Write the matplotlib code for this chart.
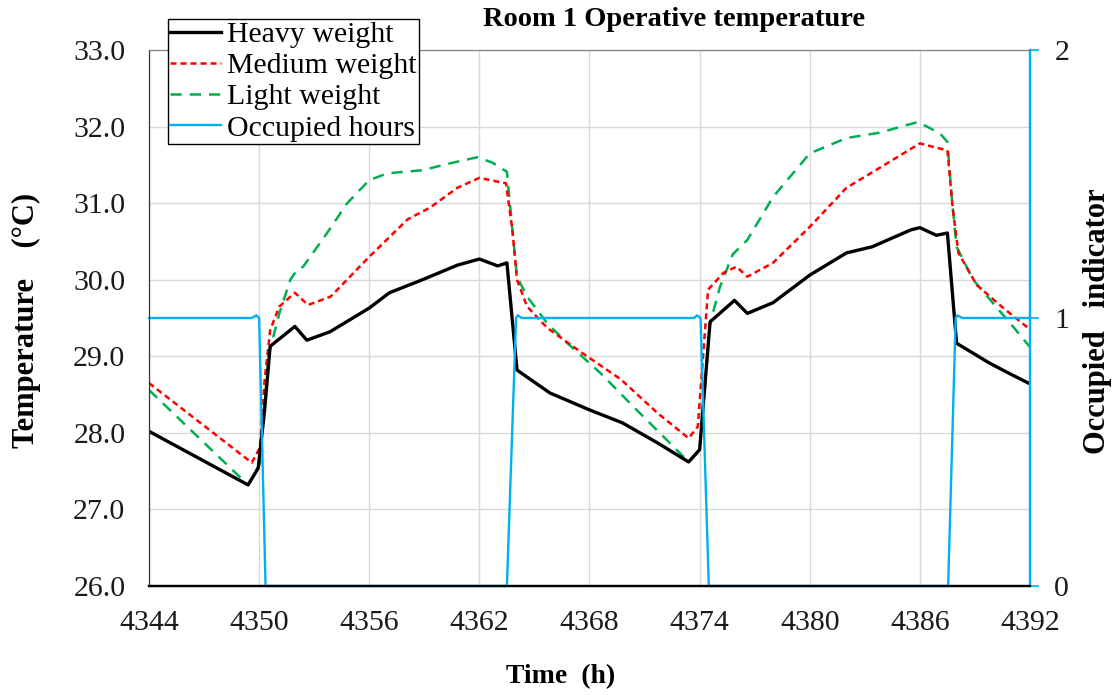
import matplotlib
matplotlib.use("Agg")
import matplotlib.pyplot as plt

plt.rcParams['font.family'] = ['Liberation Serif', 'DejaVu Serif']

# ---- data ----
heavy_h = [4344, 4349.4, 4349.95, 4350.3, 4350.6, 4351.95, 4352.6, 4353.86, 4356.0, 4357.1,
           4358.9, 4360.8, 4362.0, 4363.0, 4363.5, 4364.05, 4365.85, 4368.0, 4369.8, 4371.7,
           4373.4, 4374.0, 4374.57, 4375.9, 4376.6, 4378.0, 4380.0, 4382.0, 4383.4, 4385.5,
           4386.0, 4386.9, 4387.5, 4388.0, 4389.8, 4391.0, 4392]
heavy_t = [28.02, 27.32, 27.54, 28.3, 29.13, 29.39, 29.21, 29.32, 29.63, 29.83,
           30.0, 30.19, 30.27, 30.18, 30.22, 28.82, 28.52, 28.30, 28.13, 27.87,
           27.62, 27.78, 29.45, 29.73, 29.56, 29.70, 30.06, 30.35, 30.43, 30.65,
           30.68, 30.58, 30.61, 29.17, 28.91, 28.76, 28.64]

medium_h = [4344, 4349.6, 4350.05, 4350.3, 4350.6, 4351.1, 4351.95, 4352.66, 4353.9, 4356.0,
            4358.1, 4359.3, 4360.8, 4362.0, 4363.0, 4363.45, 4363.8, 4364.05, 4364.6, 4365.7,
            4367.5, 4369.7, 4371.7, 4373.4, 4373.9, 4374.46, 4375.3, 4376.0, 4376.6, 4378.0,
            4380.0, 4382.0, 4383.8, 4386.0, 4387.3, 4387.5, 4387.8, 4388.1, 4389.1, 4390.5,
            4392]
medium_t = [28.65, 27.61, 27.81, 28.69, 29.34, 29.65, 29.83, 29.67, 29.78, 30.30,
            30.79, 30.94, 31.20, 31.33, 31.28, 31.26, 30.65, 30.0, 29.65, 29.37,
            29.06, 28.70, 28.26, 27.93, 28.08, 29.87, 30.09, 30.17, 30.04, 30.22,
            30.69, 31.20, 31.46, 31.78, 31.70, 31.69, 30.91, 30.35, 29.93, 29.64,
            29.35]

light_h = [4344, 4349.4, 4350.05, 4350.5, 4351.1, 4351.7, 4352.07, 4352.4, 4353.7, 4354.8,
           4356.0, 4357.0, 4358.9, 4360.4, 4361.9, 4362.7, 4363.5, 4363.8, 4364.05, 4364.6,
           4365.7, 4366.8, 4368.6, 4370.4, 4372.2, 4373.4, 4374.0, 4374.57, 4375.1, 4375.8,
           4376.6, 4378.0, 4380.0, 4382.0, 4383.8, 4385.9, 4387.1, 4387.5, 4387.75, 4388.0,
           4388.9, 4390.0, 4391.1, 4392]
light_t = [28.56, 27.32, 27.6, 29.0, 29.56, 30.0, 30.13, 30.17, 30.61, 31.0,
           31.30, 31.39, 31.43, 31.52, 31.60, 31.53, 31.41, 30.65, 30.04, 29.78,
           29.43, 29.17, 28.78, 28.34, 27.91, 27.62, 27.78, 29.43, 29.9, 30.33,
           30.52, 31.08, 31.65, 31.85, 31.92, 32.06, 31.91, 31.80, 31.04, 30.43,
           30.0, 29.69, 29.38, 29.12]

occ_h = [4344, 4349.6, 4349.85, 4350.0, 4350.35, 4363.5, 4364.0, 4364.1, 4364.3,
         4373.7, 4373.86, 4374.05, 4374.5, 4387.54, 4387.95, 4388.05, 4388.3, 4392]
occ_v = [1, 1, 1.01, 1.0, 0, 0, 1.0, 1.01, 1.0,
         1.0, 1.01, 1.0, 0, 0, 1.0, 1.01, 1.0, 1]

x_ticks = [4344, 4350, 4356, 4362, 4368, 4374, 4380, 4386, 4392]
y_ticks = [26.0, 27.0, 28.0, 29.0, 30.0, 31.0, 32.0, 33.0]
occ_ticks = [0, 1, 2]

# ---- figure ----
fig = plt.figure(figsize=(11.15, 6.95), dpi=100)
ax = fig.add_axes([149/1115, 1-586/695, (1030-149)/1115, (586-50)/695])
ax2 = ax.twinx()

GREEN = '#00B050'
CYAN = '#00B0F0'

l1, = ax.plot(heavy_h, heavy_t, color='black', lw=2.4, solid_joinstyle='round', zorder=5)
l2, = ax.plot(medium_h, medium_t, color='#FF0000', lw=1.8, dashes=(2.4, 1.6), zorder=4)
l3, = ax.plot(light_h, light_t, color=GREEN, lw=1.8, dashes=(4.5, 3.2), zorder=3)
l4, = ax2.plot(occ_h, occ_v, color=CYAN, lw=1.7, clip_on=False, zorder=2)

ax.set_xlim(4344, 4392)
ax.set_ylim(26, 33)
ax.set_xticks(x_ticks)
ax.set_xticklabels([str(v) for v in x_ticks])
ax.set_yticks(y_ticks)
ax.set_yticklabels([f"{v:.1f}" for v in y_ticks])
ax.grid(True, color='#D9D9D9', lw=1.0)
ax.set_axisbelow(True)
ax.tick_params(axis='both', length=0, labelsize=21.5, colors='#1a1a1a')
ax.tick_params(axis='x', pad=17)
ax.tick_params(axis='y', pad=17)

ax2.set_ylim(0, 2)
ax2.set_yticks(occ_ticks)
ax2.set_yticklabels([str(v) for v in occ_ticks])
ax2.tick_params(axis='y', length=6.5, width=1.2, color=CYAN, labelsize=21.5,
                labelcolor='#1a1a1a', pad=11, direction='out')

for a in (ax, ax2):
    a.spines['top'].set_color('#808080')
    a.spines['left'].set_color('#333333')
    a.spines['bottom'].set_color('black')
    a.spines['bottom'].set_linewidth(1.6)
    a.spines['right'].set_color(CYAN)
    a.spines['right'].set_linewidth(1.6)

fig.text(674/1115, 1-19/695, "Room 1 Operative temperature", ha='center', va='center',
         fontsize=20.5, fontweight='bold')
fig.text(561/1115, 1-677/695, "Time  (h)", ha='center', va='center',
         fontsize=20, fontweight='bold')
fig.text(26/1115, 1-320/695, "Temperature    (°C)", ha='center', va='center',
         rotation=90, fontsize=22, fontweight='bold')
fig.text(1097/1115, 1-321/695, "Occupied   indicator", ha='center', va='center',
         rotation=90, fontsize=22, fontweight='bold')

leg = fig.legend([l1, l2, l3, l4],
                 ["Heavy weight", "Medium weight", "Light weight", "Occupied hours"],
                 loc='upper left', bbox_to_anchor=(168/1115, 1-19/695),
                 borderaxespad=0, fontsize=21.5, frameon=True, fancybox=False,
                 edgecolor='black', framealpha=1, handlelength=1.7, handletextpad=0.2,
                 labelspacing=0.14, borderpad=0.08)
leg.get_frame().set_linewidth(1.0)

fig.savefig("out.png", dpi=100)
